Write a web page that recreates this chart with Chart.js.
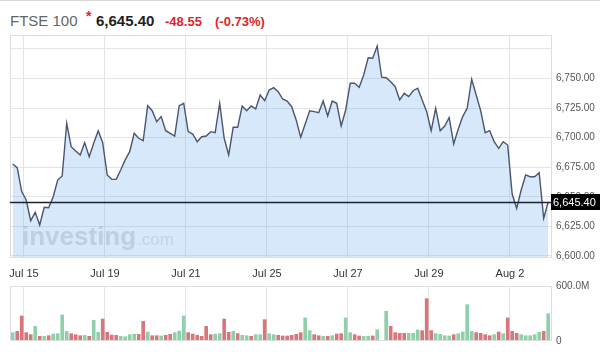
<!DOCTYPE html>
<html><head><meta charset="utf-8">
<script src="https://cdn.jsdelivr.net/npm/chart.js@4.4.0/dist/chart.umd.min.js"></script>
<style>
html,body{margin:0;padding:0;background:#fff;}
body{width:600px;height:356px;position:relative;overflow:hidden;font-family:Arial,"Liberation Sans",sans-serif;}
#topline{position:absolute;left:0;top:0;width:600px;height:1px;background:#d9d9d9;}
.h{position:absolute;white-space:nowrap;line-height:18px;}
#nm{left:10px;top:12px;font-size:15px;color:#666;}
#ast{left:86px;top:7px;font-size:14px;font-weight:bold;color:#e0262b;}
#px{left:96px;top:12px;font-size:15px;font-weight:bold;color:#222;}
#ch{left:165px;top:13px;font-size:13px;font-weight:bold;color:#d8262c;}
#pc{left:215px;top:13px;font-size:13px;font-weight:bold;color:#d8262c;}
#c1{position:absolute;left:0;top:0;}
#c2{position:absolute;left:0;top:276px;}
</style></head>
<body>
<div id="topline"></div>
<div class="h" id="nm">FTSE 100</div>
<div class="h" id="ast">*</div>
<div class="h" id="px">6,645.40</div>
<div class="h" id="ch">-48.55</div>
<div class="h" id="pc">(-0.73%)</div>
<canvas id="c1" width="600" height="280"></canvas>
<canvas id="c2" width="600" height="80"></canvas>
<script>
// ---- data ----
const xLabels = ['Jul 15','Jul 19','Jul 21','Jul 25','Jul 27','Jul 29','Aug 2'];
const xLabelPos = [2.5, 20.5, 38.5, 56.5, 74.5, 92.5, 110.5];
const prices = [
6677.8,6674.6,6654.4,6647.3,6629.8,6636.9,6626.2,6641.2,6640.8,6650.1,
6664.2,6667.6,6712.2,6692.4,6688.8,6685.4,6695.8,6683.9,6695.3,6705.9,
6695.8,6668.5,6664.8,6664.8,6672.7,6681.2,6688.2,6703.7,6699.5,6697.5,
6727.1,6722.8,6713.5,6717.8,6705.9,6703.7,6701.4,6727.1,6729.1,6705.1,
6703.1,6696.6,6700.8,6701.4,6705.1,6704.2,6729.1,6699.5,6685.4,6708.8,
6708.8,6726.8,6722.8,6726.8,6724.3,6736.1,6731.3,6740.3,6742.3,6738.9,
6732.7,6731.0,6726.2,6715.0,6700.3,6711.6,6722.8,6722.0,6721.1,6731.0,
6718.3,6731.0,6729.1,6709.9,6723.4,6746.0,6746.0,6742.6,6753.0,6767.5,
6767.1,6777.5,6751.1,6750.7,6747.3,6743.1,6731.9,6737.5,6734.7,6739.7,
6741.8,6731.9,6722.0,6705.9,6724.8,6705.9,6709.9,6716.9,6694.7,6707.1,
6717.8,6724.8,6749.4,6736.1,6722.8,6704.2,6705.9,6696.6,6691.0,6696.6,
6693.8,6652.4,6640.3,6655.8,6668.5,6667.0,6667.0,6670.4,6631.9,6645.4];
const volumesM = [
91,105,273,91,69,160,51,51,58,76,
80,284,105,80,69,58,62,51,225,95,
240,95,65,62,51,47,69,73,73,214,
98,58,58,55,62,73,91,109,273,91,
76,62,51,160,69,76,80,240,95,105,
80,62,58,51,69,69,233,80,69,62,
55,55,62,73,91,251,113,69,58,51,
51,58,76,80,251,91,69,55,51,51,
55,124,0,324,160,91,84,84,84,84,
120,113,462,113,80,73,58,55,69,80,
98,396,105,91,84,69,58,69,98,80,
251,105,84,69,58,58,69,95,105,298];
const volumeDir = [
'u','d','d','d','d','u','d','u','d','u',
'u','u','u','d','d','d','u','d','u','u',
'd','d','d','d','u','u','u','u','d','d',
'u','d','d','u','d','d','u','u','u','d',
'd','d','d','d','d','u','u','d','d','u',
'd','u','u','d','u','u','d','u','u','d',
'd','d','d','d','d','u','u','d','d','u',
'd','u','d','d','u','u','d','d','u','u',
'd','u','u','u','d','d','d','d','u','u',
'u','d','d','d','u','u','u','u','d','u',
'u','u','u','d','d','d','d','u','d','u',
'd','d','d','u','u','u','u','u','d','u'];
const priceGridValues = [6600,6625,6650,6675,6700,6725,6750,6775];
const priceLabelMax = 6750;
const lastPrice = 6645.40;
const lastPriceLabel = '6,645.40';
const volumeTicks = [0, 600];
const watermarkMain = 'investing';
const watermarkSub = '.com';

// ---- styling ----
const GRID = '#e4e4e4';
const FONT = 'Arial, "Liberation Sans", sans-serif';
const fmt = v => v.toLocaleString('en-US',{minimumFractionDigits:2, maximumFractionDigits:2});

const frame = {
  id:'frame',
  afterDraw(chart){
    const {ctx, chartArea:a} = chart;
    ctx.save();
    ctx.strokeStyle = '#dedede'; ctx.lineWidth = 1;
    ctx.strokeRect(Math.round(a.left)+0.5, Math.round(a.top)+0.5, Math.round(a.right-a.left)-1, Math.round(a.bottom-a.top)-1);
    ctx.restore();
  }
};

const priceExtras = {
  id:'priceExtras',
  afterDatasetsDraw(chart){
    const {ctx} = chart;
    ctx.save();
    ctx.textBaseline = 'alphabetic';
    ctx.fillStyle = 'rgba(150,162,180,0.36)';
    ctx.font = 'bold 26px ' + FONT;
    ctx.fillText(watermarkMain, 22, 245);
    const w = ctx.measureText(watermarkMain).width;
    ctx.font = '17px ' + FONT;
    ctx.fillStyle = 'rgba(150,162,180,0.30)';
    ctx.fillText(watermarkSub, 22 + w + 1, 245);
    ctx.restore();
  },
  afterDraw(chart){
    const {ctx, chartArea:a, scales} = chart;
    const y = Math.round(scales.y.getPixelForValue(lastPrice)) + 0.5;
    ctx.save();
    ctx.strokeStyle = '#1b2233'; ctx.lineWidth = 1.5;
    ctx.beginPath(); ctx.moveTo(a.left, y); ctx.lineTo(a.right, y); ctx.stroke();
    ctx.fillStyle = '#000';
    ctx.fillRect(a.right - 1, y - 8.5, 600 - a.right + 1, 16);
    ctx.fillStyle = '#fff';
    ctx.font = '11px ' + FONT;
    ctx.textBaseline = 'middle';
    ctx.fillText(lastPriceLabel, a.right + 1, y);
    ctx.restore();
  }
};

const xScaleBase = (showLabels) => ({
  type:'linear', min:-0.6, max:119.85, offset:false,
  afterBuildTicks: s => { s.ticks = xLabelPos.map(v => ({value:v})); },
  ticks:{ display:showLabels, autoSkip:false, maxRotation:0, padding:9, color:'#333',
          font:{size:11, family:FONT}, callback:(v,i) => xLabels[i] },
  grid:{ color:GRID, drawTicks:false, tickLength:0, offset:false },
  border:{ display:false }
});

new Chart(document.getElementById('c1'), {
  type:'line',
  data:{ datasets:[{
    data: prices.map((v,i)=>({x:i, y:v})),
    borderColor:'#4b5570', borderWidth:1.4,
    backgroundColor:'rgba(120,180,240,0.30)', fill:'start',
    pointRadius:0, tension:0
  }]},
  options:{
    responsive:false, animation:false, events:[],
    layout:{ padding:{ left:10, top:35, right:0, bottom:0 } },
    plugins:{ legend:{display:false}, tooltip:{enabled:false} },
    scales:{
      x: Object.assign(xScaleBase(true), { afterFit: s => { s.height = 22; } }),
      y:{
        position:'right', min:6598.3, max:6786.8,
        afterBuildTicks: s => { s.ticks = priceGridValues.map(v => ({value:v})); },
        ticks:{ padding:4, color:'#555', font:{size:10, family:FONT},
                callback: v => v <= priceLabelMax ? fmt(v) : '' },
        grid:{ color:GRID, drawTicks:false, tickLength:0 },
        border:{ display:false },
        afterFit: s => { s.width = 48; }
      }
    }
  },
  plugins:[frame, priceExtras]
});

new Chart(document.getElementById('c2'), {
  type:'bar',
  data:{ datasets:[{
    data: volumesM.map((v,i)=>({x:i, y:v})),
    backgroundColor: volumeDir.map(d => d === 'u' ? '#8fd0aa' : '#d8777b'),
    barThickness:3, borderWidth:0
  }]},
  options:{
    responsive:false, animation:false, events:[],
    layout:{ padding:{ left:10, top:8, right:0, bottom:0 } },
    plugins:{ legend:{display:false}, tooltip:{enabled:false} },
    scales:{
      x: Object.assign(xScaleBase(false), { afterFit: s => { s.height = 15; } }),
      y:{
        position:'right', min:0, max:600,
        afterBuildTicks: s => { s.ticks = volumeTicks.map(v => ({value:v})); },
        ticks:{ padding:4, color:'#555', font:{size:10, family:FONT},
                callback: v => v === 0 ? '0' : v.toFixed(1) + 'M' },
        grid:{ color: c => (c.tick && c.tick.value === 0) ? 'rgba(0,0,0,0)' : GRID, drawTicks:false, tickLength:0 },
        border:{ display:false },
        afterFit: s => { s.width = 48; }
      }
    }
  },
  plugins:[frame]
});
</script>
</body></html>
